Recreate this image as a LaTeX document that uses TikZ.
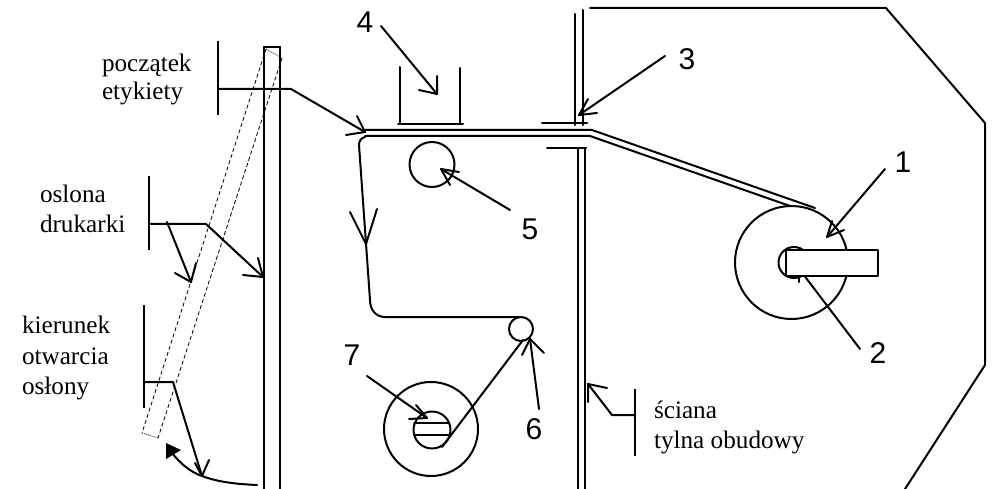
\documentclass[tikz,border=0pt]{standalone}
\usepackage{fontspec}
\setmainfont{Liberation Serif}
\newfontfamily\digitfont{Liberation Sans}
\tikzset{
  ln/.style={draw=black,line width=2pt,line cap=round,line join=round},
  wall/.style={draw=black,line width=2.5pt},
  hatchline/.style={draw=black,line width=0.8pt,dash pattern=on 4pt off 2.5pt},
  dotline/.style={draw=black,line width=0.7pt,dash pattern=on 1pt off 1pt},
  caption/.style={font=\fontsize{25.2}{28}\selectfont,anchor=base west,inner sep=0pt,outer sep=0pt},
  numeral/.style={font=\digitfont\fontsize{30}{30}\selectfont,anchor=base,inner sep=0pt,outer sep=0pt}
}
% start, tip, barb 1, barb 2
\newcommand{\barbed}[4]{\draw[ln] #1 -- #2; \draw[ln] #3 -- #2 -- #4;}
\begin{document}
\begin{tikzpicture}[x=1pt,y=-1pt]
\useasboundingbox (0,0) rectangle (993,489);
% left printer cover
\draw[wall] (264,489) -- (264,47) -- (280,47) -- (280,489);
\draw[hatchline] (266,49) -- (142,433);
\draw[hatchline] (282,58) -- (158,438);
\draw[dotline] (266,49) -- (282,58);
\draw[dotline] (142,433) -- (158,438);
% label brackets left
\draw[wall] (218,41) -- (218,115);
\draw[ln] (218,89) -- (291,89) -- (365,132);
\draw[ln] (357,116) -- (365,132) -- (346,135);
\draw[wall] (149,176) -- (149,250);
\draw[ln] (149,224) -- (206,224) -- (263,277);
\draw[ln] (243,275) -- (263,277) -- (258,258);
\barbed{(167,222)}{(191,282)}{(175,273)}{(196,263)}
\draw[wall] (144,305) -- (144,408);
\draw[ln] (144,382) -- (173,382) -- (202,476);
\draw[ln] (195,463) -- (202,476) -- (209,460);
\draw[ln] (257,485) .. controls (235,484) and (218,482) .. (202,476) .. controls (190,472) and (180,463) .. (172,453);
\fill[black] (166,443) -- (181,450) -- (166,459) -- cycle;
% hopper
\draw[ln] (400,67) -- (400,124);
\draw[ln] (460,68) -- (460,124);
\draw[ln] (398,124) -- (463,124);
\barbed{(381,26)}{(437,94)}{(419,90)}{(437,76)}
% label strip
\draw[ln] (365,130) -- (592,130) -- (815,208);
\draw[ln] (365,136) -- (590,136) -- (790,206);
\draw[ln] (365,137) .. controls (361,138) and (359,141) .. (359,145) -- (370,300) .. controls (370,310) and (376,317) .. (385,317) -- (522,317);
\draw[ln] (350,212) -- (366,244) -- (377,209);
% rollers
\draw[ln] (432,164.5) circle[radius=22.5];
\barbed{(510,210)}{(441,169)}{(459,172)}{(450,185)}
\draw[ln] (521,329) circle[radius=12];
\draw[ln] (523,340) -- (442,447);
\barbed{(539,409)}{(530,339)}{(522,355)}{(544,353)}
\draw[ln] (431,429) circle[radius=47];
\draw[ln] (432,430) circle[radius=18.5];
\draw[ln] (414,423) -- (449,423);
\draw[ln] (415,435) -- (450,435);
\barbed{(367,376)}{(427,418)}{(416,405)}{(409,419)}
% rear wall
\draw[ln] (575,14) -- (575,125);
\draw[ln] (583,10) -- (583,125);
\draw[ln] (542,123) -- (587,123);
\draw[ln] (547,148.5) -- (586,148.5);
\draw[wall] (578,148.5) -- (578,489);
\draw[wall] (585,148.5) -- (585,489);
\barbed{(665,56)}{(579,115)}{(588,99)}{(597,113)}
% housing outline
\draw[ln] (590,8) -- (886,8) -- (985,123) -- (985,365) -- (905,489);
% supply roll
\draw[ln] (791.5,262.5) circle[radius=56.5];
\draw[ln] (794,262.5) circle[radius=15.5];
\barbed{(885,169)}{(827,237)}{(832,221)}{(844,230)}
\draw[ln] (860,349) -- (800,270);
\draw[ln] (799,276) -- (799,282);
\draw[ln,fill=white] (786,250) rectangle (878,276);
% rear wall label
\draw[wall] (635,389) -- (635,456);
\draw[ln] (635,415) -- (612,415) -- (588,384);
\draw[ln] (588,402) -- (588,384) -- (607,388);
% numerals
\node[numeral] (n1) at (903,173) {1};
\node[numeral] (n2) at (878,363) {2};
\node[numeral] (n3) at (687,70) {3};
\node[numeral] (n4) at (365,33) {4};
\node[numeral] (n5) at (530,240) {5};
\node[numeral] (n6) at (534,439) {6};
\node[numeral] (n7) at (352,365) {7};
% captions
\node[caption] (t1) at (102,72) {początek};
\node[caption] (t2) at (102,100) {etykiety};
\node[caption] (t3) at (40,203) {oslona};
\node[caption] (t4) at (40,233) {drukarki};
\node[caption] (t5) at (22,333) {kierunek};
\node[caption] (t6) at (22,364) {otwarcia};
\node[caption] (t7) at (22,394) {osłony};
\node[caption] (t8) at (654,418) {ściana};
\node[caption] (t9) at (654,448) {tylna obudowy};
\end{tikzpicture}
\end{document}
